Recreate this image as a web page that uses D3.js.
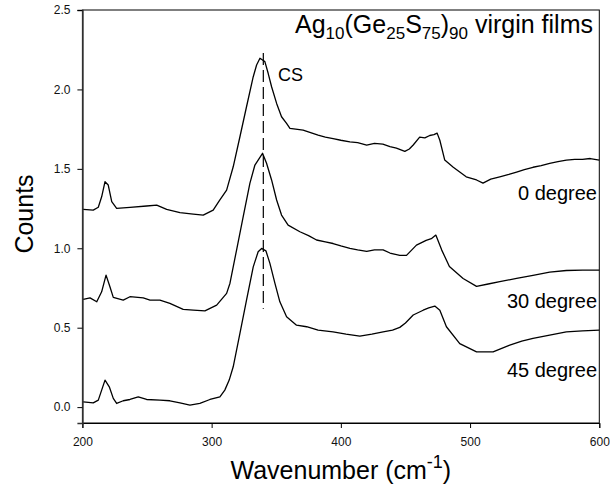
<!DOCTYPE html>
<html>
<head>
<meta charset="utf-8">
<script src="https://cdn.jsdelivr.net/npm/d3@7"></script>
<style>
  html, body { margin: 0; padding: 0; background: #fff; }
  svg text { font-family: "Liberation Sans", Arial, sans-serif; }
</style>
</head>
<body>
<svg id="chart" width="610" height="500"></svg>
<script>
// ---- data ----
const seriesNames = ["0 degree", "30 degree", "45 degree"];
const xTicks = [200, 300, 400, 500, 600];
const yTicks = [0.0, 0.5, 1.0, 1.5, 2.0, 2.5];
const csPosition = 340;
const csRange = [0.62, 2.23];

const wn0 = [200.7,208.4,212.3,214.9,217.5,220,222.7,226.5,236.8,249.7,257.5,265.2,275.5,285.8,293.5,301.2,306,311.6,316.7,321.9,327,332.2,334.8,337.4,339.4,341.2,343.8,346.4,350.3,354.1,358,360.6,365,370.8,376,382.4,388,394,400,407,413,420,426,432.5,438,443,449.5,453,456,461,465,468.8,472,474.5,476.6,480.4,487,492,497,505,510,516,523,530,536,542,548.7,555,561.6,568,574.5,581,587,593,600];
const cnt0 = [1.245,1.24,1.258,1.324,1.419,1.398,1.293,1.251,1.258,1.266,1.272,1.245,1.224,1.215,1.209,1.24,1.30,1.366,1.513,1.702,1.891,2.08,2.154,2.196,2.185,2.175,2.10,2.017,1.912,1.828,1.786,1.755,1.75,1.744,1.73,1.713,1.70,1.69,1.68,1.67,1.665,1.65,1.66,1.655,1.64,1.63,1.61,1.625,1.65,1.70,1.695,1.71,1.715,1.725,1.68,1.555,1.51,1.48,1.45,1.43,1.41,1.435,1.45,1.465,1.48,1.495,1.51,1.52,1.535,1.545,1.555,1.56,1.56,1.565,1.555];

const wn30 = [200.7,205.9,211.1,214.9,218.3,221.3,223.9,231.6,236.8,247.1,252.3,260,267.7,278,285.8,294.8,303.9,311.6,314.2,319.3,324.4,329.6,333.5,336,339.4,342.5,346.4,350.3,354.1,359.2,368.3,375,381.2,388,394,400,407,413,420,426,432.7,438,445.6,450.8,458.5,466,470,473.5,478,484,494.6,505,514,523,536,548.7,561.6,574.5,587,600];
const cnt30 = [0.678,0.688,0.663,0.726,0.831,0.758,0.691,0.674,0.695,0.688,0.674,0.674,0.653,0.615,0.611,0.606,0.642,0.716,0.78,0.989,1.198,1.409,1.524,1.555,1.598,1.535,1.43,1.304,1.209,1.146,1.104,1.08,1.052,1.04,1.03,1.015,1.0,0.99,0.98,0.99,0.99,0.97,0.955,0.955,1.02,1.05,1.06,1.083,0.99,0.885,0.81,0.76,0.775,0.79,0.81,0.83,0.85,0.86,0.862,0.863];

const wn45 = [200.7,208.4,212.3,214.9,217.5,220.8,223.9,226.5,231.6,236.8,243.2,249.7,260,267.7,275.5,283.2,290.9,298.7,306.4,310.2,313.6,316.7,321.9,327,332.2,336,338.7,342,345.1,349,352.8,358,365.7,373.5,382.4,394,404,414.7,424,432.7,440,445.6,450,456,463.7,468,472.7,476.6,481.7,492,505,517.8,530.7,540,548.7,561.6,574.5,587,600];
const cnt45 = [0.033,0.027,0.044,0.107,0.17,0.128,0.055,0.023,0.04,0.048,0.065,0.048,0.044,0.04,0.027,0.013,0.023,0.048,0.065,0.107,0.17,0.254,0.464,0.674,0.883,0.978,0.999,0.984,0.905,0.779,0.663,0.569,0.516,0.506,0.485,0.474,0.46,0.447,0.46,0.474,0.485,0.502,0.53,0.58,0.61,0.625,0.636,0.61,0.506,0.40,0.348,0.348,0.39,0.415,0.433,0.453,0.474,0.48,0.485];

const xValues = [wn0, wn30, wn45];
const yValues = [cnt0, cnt30, cnt45];

// ---- layout ----
const svg = d3.select("#chart");
const mLeft = 82.4, mRight = 599.3, mTop = 10, mBottom = 423;
const x = d3.scaleLinear().domain([200, 600]).range([mLeft, mRight]);
const y = d3.scaleLinear().domain([-0.1, 2.5]).range([mBottom, mTop]);

// frame
svg.append("rect")
  .attr("x", mLeft).attr("y", mTop)
  .attr("width", mRight - mLeft).attr("height", mBottom - mTop)
  .attr("fill", "none").attr("stroke", "#000").attr("stroke-width", 1);

// axes
const xAxis = svg.append("g")
  .attr("transform", `translate(0,${mBottom})`)
  .call(d3.axisBottom(x).tickValues(xTicks).tickSize(5).tickPadding(9).tickFormat(d3.format("d")));
const yAxis = svg.append("g")
  .attr("transform", `translate(${mLeft},0)`)
  .call(d3.axisLeft(y).tickValues(yTicks).tickSize(5).tickPadding(7).tickFormat(d3.format(".1f")));
[xAxis, yAxis].forEach(g => {
  g.select(".domain").attr("stroke", "#000");
  g.selectAll(".tick line").attr("stroke", "#000");
  g.selectAll(".tick text").attr("fill", "#111").style("font-size", "12px")
    .style("font-family", "'Liberation Sans', Arial, sans-serif");
});
yAxis.select(".domain").attr("stroke", "#333").attr("stroke-width", 1.6);

// curves
const line = d3.line().x(d => x(d[0])).y(d => y(d[1]));
seriesNames.forEach((name, i) => {
  const pts = xValues[i].map((v, j) => [v, yValues[i][j]]);
  svg.append("path").datum(pts)
    .attr("d", line)
    .attr("fill", "none").attr("stroke", "#000").attr("stroke-width", 1.3)
    .attr("stroke-linejoin", "round");
});

// dashed CS line
svg.append("line")
  .attr("x1", x(csPosition)).attr("x2", x(csPosition))
  .attr("y1", y(csRange[1])).attr("y2", y(csRange[0]))
  .attr("stroke", "#000").attr("stroke-width", 1.2)
  .attr("stroke-dasharray", "12,5");

// labels
svg.append("text").attr("x", 278).attr("y", 81)
  .style("font-size", "18px").attr("fill", "#000").text("CS");

const degreeY = [200, 308, 377];
seriesNames.forEach((name, i) => {
  svg.append("text").attr("x", 597).attr("y", degreeY[i])
    .attr("text-anchor", "end").style("font-size", "20px").attr("fill", "#000").text(name);
});

// title annotation
const t = svg.append("text").attr("x", 593).attr("y", 33)
  .attr("text-anchor", "end").style("font-size", "25px").attr("fill", "#000");
const parts = [["Ag", 0], ["10", 1], ["(Ge", 0], ["25", 1], ["S", 0], ["75", 1], [")", 0], ["90", 1], [" virgin films", 0]];
let shifted = false;
parts.forEach(([s, sub]) => {
  const ts = t.append("tspan").text(s);
  if (sub) {
    ts.style("font-size", "17px").attr("dy", shifted ? 0 : 6);
    shifted = true;
  } else {
    ts.attr("dy", shifted ? -6 : 0);
    shifted = false;
  }
});

// axis titles
const xt = svg.append("text").attr("x", (mLeft + mRight) / 2).attr("y", 479)
  .attr("text-anchor", "middle").style("font-size", "25px").attr("fill", "#000");
xt.append("tspan").text("Wavenumber (cm");
xt.append("tspan").text("-1").style("font-size", "18px").attr("dy", -11);
xt.append("tspan").text(")").attr("dy", 11);

svg.append("text")
  .attr("transform", "translate(33,214) rotate(-90)")
  .attr("text-anchor", "middle").style("font-size", "25px").attr("fill", "#000")
  .text("Counts");
</script>
</body>
</html>
